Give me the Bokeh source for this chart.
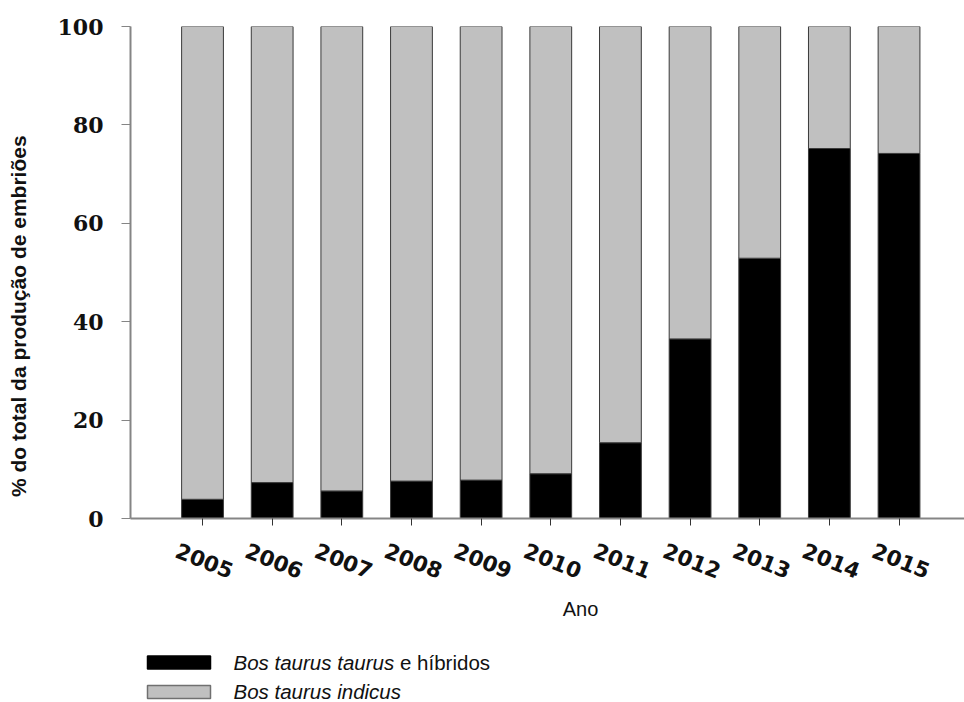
import math
from bokeh.plotting import figure
from bokeh.models import Range1d, FixedTicker, ColumnDataSource
from bokeh.layouts import column
from bokeh.embed import file_html
from bokeh.resources import INLINE
from bokeh.core.properties import value

# ---- data ----
years = [2005, 2006, 2007, 2008, 2009, 2010, 2011, 2012, 2013, 2014, 2015]
year_labels = [str(y) for y in years]
taurus = [3.9, 7.3, 5.6, 7.6, 7.8, 9.1, 15.4, 36.5, 52.9, 75.2, 74.2]
indicus = [96.1, 92.7, 94.4, 92.4, 92.2, 90.9, 84.6, 63.5, 47.1, 24.8, 25.8]
y_ticks = [0, 20, 40, 60, 80, 100]
y_label = "% do total da produção de embriões"
x_label = "Ano"
legend_italic = ["Bos taurus taurus", "Bos taurus indicus"]
legend_extra = ["e híbridos"]
series_colors = ["#000000", "#c0c0c0"]

src = ColumnDataSource(dict(year=years, taurus=taurus, indicus=indicus))
NBSP = "\u00a0"

# ---- main plot ----
p = figure(width=964, height=530,
           x_range=Range1d(2003.966, 2015.94), y_range=Range1d(0, 100),
           output_backend="svg", toolbar_location=None,
           min_border_left=130, min_border_right=0,
           min_border_top=26, min_border_bottom=12)
p.outline_line_color = None
p.xgrid.visible = False
p.ygrid.visible = False

p.vbar_stack(["taurus", "indicus"], x="year", width=0.6, source=src,
             fill_color=series_colors, line_color="#3a3a3a", line_width=1)

axis_gray = "#858585"
p.xaxis.ticker = FixedTicker(ticks=years)
# year labels are drawn rotated in the strip below (same x scale)
p.xaxis.major_label_text_font_size = "1px"
p.xaxis.major_label_text_color = None
p.xaxis.major_label_standoff = 0
p.xaxis.major_tick_in = 0
p.xaxis.major_tick_out = 7
p.xaxis.minor_tick_line_color = None
p.xaxis.axis_line_color = axis_gray
p.xaxis.axis_line_width = 2
p.xaxis.major_tick_line_color = "#333333"

p.yaxis.ticker = FixedTicker(ticks=y_ticks)
p.yaxis.major_label_text_font = "DejaVu Serif"
p.yaxis.major_label_text_font_style = "bold"
p.yaxis.major_label_text_font_size = "22px"
p.yaxis.major_label_text_color = "#111111"
p.yaxis.major_tick_in = 0
p.yaxis.major_tick_out = 9
p.yaxis.minor_tick_line_color = None
p.yaxis.axis_line_color = axis_gray
p.yaxis.axis_line_width = 2
p.yaxis.major_tick_line_color = axis_gray
p.yaxis.major_label_standoff = 18
p.yaxis.axis_label = y_label + NBSP * 15
p.yaxis.axis_label_text_font = "Liberation Sans"
p.yaxis.axis_label_text_font_style = "bold"
p.yaxis.axis_label_text_font_size = "21px"
p.yaxis.axis_label_text_color = "#111111"
p.yaxis.axis_label_standoff = 25

# ---- rotated year labels under the axis (same x scale) ----
xl = figure(width=964, height=65, x_range=p.x_range, y_range=Range1d(65, 0),
            output_backend="svg", toolbar_location=None,
            min_border_left=130, min_border_right=0,
            min_border_top=0, min_border_bottom=0)
xl.axis.visible = False
xl.grid.visible = False
xl.outline_line_color = None
xl.text(x=years, y=30, text=year_labels, angle=-0.38, x_offset=2,
        text_align="center", text_baseline="middle",
        text_font=value("DejaVu Sans"), text_font_style="bold",
        text_font_size="21.5px", text_color="#111111")

# ---- axis title and legend ----
lg = figure(width=964, height=107, x_range=Range1d(0, 964), y_range=Range1d(107, 0),
            output_backend="svg", toolbar_location=None,
            min_border_left=0, min_border_right=0, min_border_top=0, min_border_bottom=0)
lg.frame_align = False
lg.axis.visible = False
lg.grid.visible = False
lg.outline_line_color = None
lg.text(x=[580], y=[13.5], text=[x_label], text_align="center", text_baseline="middle",
        text_font=value("Liberation Sans"), text_font_size="20px", text_color="#111111")
lg.rect(x=[178.5, 178.5], y=[67, 96.5], width=63, height=13,
        fill_color=series_colors, line_color=["#000000", "#707070"], line_width=1.5)
lg.text(x=[233, 233], y=[67, 95.5], text=legend_italic,
        text_font=value("Liberation Sans"), text_font_style="italic",
        text_font_size="20.5px", text_baseline="middle", text_color="#111111")
lg.text(x=[399.5], y=[67], text=legend_extra,
        text_font=value("Liberation Sans"),
        text_font_size="20.5px", text_baseline="middle", text_color="#111111")

layout = column(p, xl, lg)
open("out.html", "w").write(file_html(layout, INLINE))
